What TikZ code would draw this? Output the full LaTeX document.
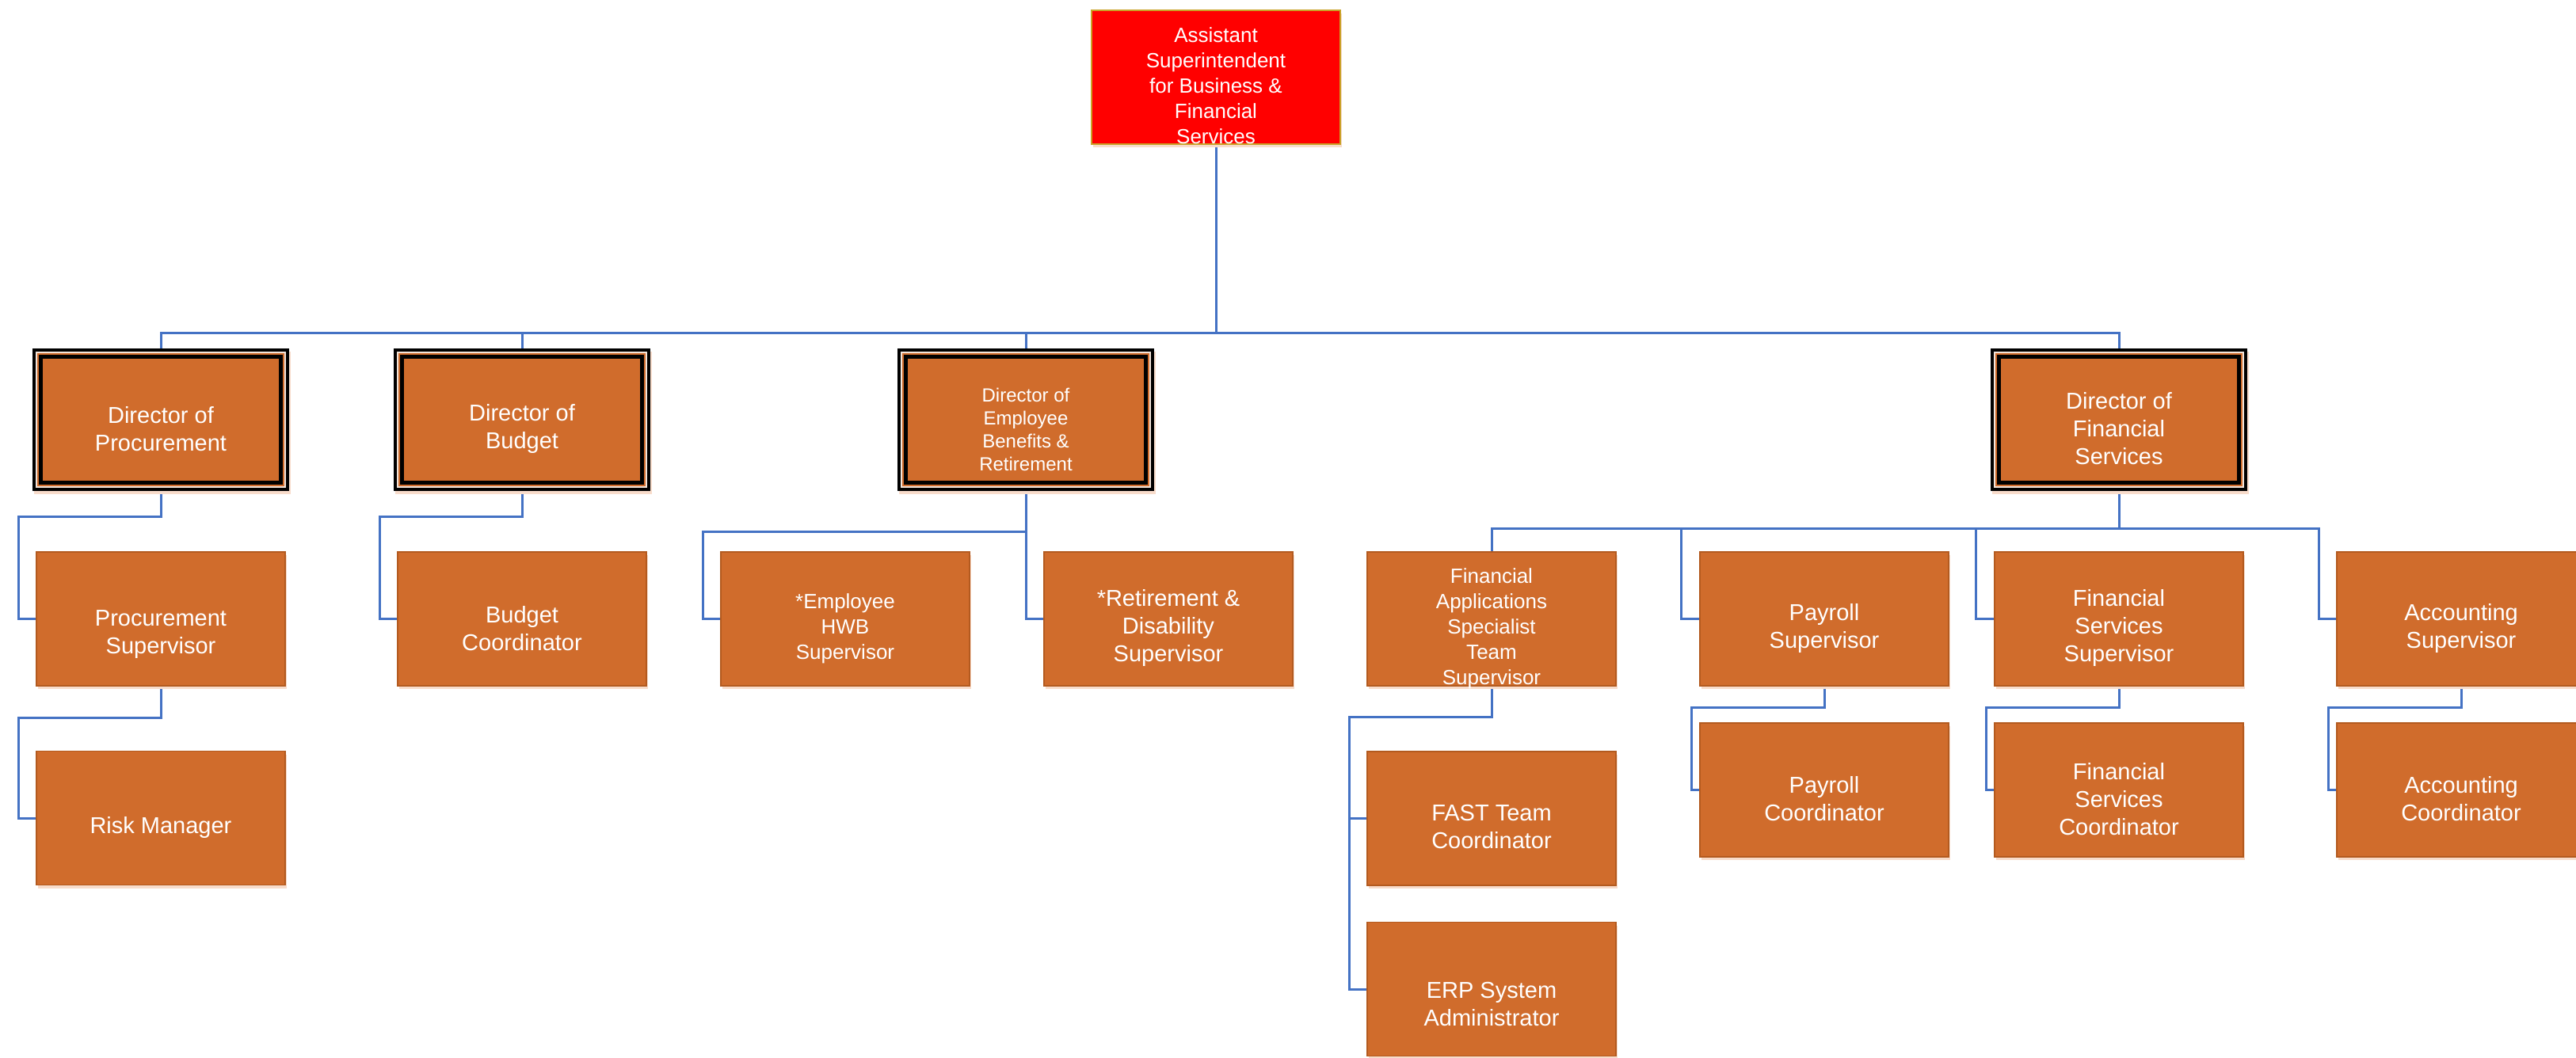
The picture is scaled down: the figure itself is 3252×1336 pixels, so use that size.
\documentclass[tikz,border=0pt]{standalone}
\usepackage{fontspec}
\setmainfont{Liberation Sans}
\usetikzlibrary{backgrounds,shadows}
\definecolor{orfill}{HTML}{D06C2C}
\definecolor{ordraw}{HTML}{B35A1F}
\definecolor{linkblue}{HTML}{4472C4}
\definecolor{dlight}{HTML}{F2E4DA}
\definecolor{topgold}{HTML}{C9A227}
\definecolor{shadowc}{HTML}{F8DCCB}
\newcommand\dirframe[1]{%
  \fill[dlight] ([shift={(4,4)}]#1.north west) rectangle ([shift={(-4,-4)}]#1.south east);
  \fill[orfill] ([shift={(6,6)}]#1.north west) rectangle ([shift={(-6,-6)}]#1.south east);
  \fill[black] ([shift={(8.3,8.3)}]#1.north west) rectangle ([shift={(-8.3,-8.3)}]#1.south east);
  \fill[orfill] ([shift={(13,13)}]#1.north west) rectangle ([shift={(-13,-13)}]#1.south east);
}
\begin{document}
\begin{tikzpicture}[x=0.5pt,y=-0.5pt,
  shade/.style={drop shadow={shadow xshift=1pt,shadow yshift=-2pt,fill=shadowc,opacity=1}},
  orbox/.style={rectangle, outer sep=0pt, inner sep=0pt, minimum width=157pt, minimum height=84.5pt,
    fill=orfill, draw=ordraw, line width=0.8pt, shade},
  topbox/.style={rectangle, outer sep=0pt, inner sep=0pt, minimum width=157pt, minimum height=84.5pt,
    fill=red, draw=topgold, line width=0.9pt, shade},
  dirbox/.style={rectangle, outer sep=0pt, inner sep=0pt, minimum width=162pt, minimum height=90pt,
    fill=black, shade},
  txt/.style={text=white, align=center, inner sep=0pt},
  fnorm/.style={font=\fontsize{14.5}{17.5}\selectfont},
  fsmall/.style={font=\fontsize{13}{16}\selectfont},
  feb/.style={font=\fontsize{12}{14.5}\selectfont},
  link/.style={draw=linkblue, line width=1.5pt}]
\useasboundingbox (0,0) rectangle (3252,1336);

% top
\node[topbox] (asst) at (1535,97.5) {};
\node[txt,fsmall] (asst-t) at ([shift={(0,11)}]asst.center) {Assistant\\Superintendent\\for Business \&\\Financial\\Services};

% directors
\node[dirbox] (dproc) at (203,530) {}; \dirframe{dproc}
\node[txt,fnorm] (dproc-t) at ([shift={(0,12)}]dproc.center) {Director of\\Procurement};
\node[dirbox] (dbud) at (659,530) {}; \dirframe{dbud}
\node[txt,fnorm] (dbud-t) at ([shift={(0,12)}]dbud.center) {Director of\\Budget};
\node[dirbox] (deb) at (1295,530) {}; \dirframe{deb}
\node[txt,feb] (deb-t) at ([shift={(0,12)}]deb.center) {Director of\\Employee\\Benefits \&\\Retirement};
\node[dirbox] (dfs) at (2675,530) {}; \dirframe{dfs}
\node[txt,fnorm] (dfs-t) at ([shift={(0,11)}]dfs.center) {Director of\\Financial\\Services};

% level 2
\node[orbox] (psup) at (203,781.5) {};
\node[txt,fnorm] (psup-t) at ([shift={(0,20)}]psup.center) {Procurement\\Supervisor};
\node[orbox] (bcoord) at (659,781.5) {};
\node[txt,fnorm] (bcoord-t) at ([shift={(0,12)}]bcoord.center) {Budget\\Coordinator};
\node[orbox] (hwb) at (1067,781.5) {};
\node[txt,fsmall] (hwb-t) at ([shift={(0,12)}]hwb.center) {*Employee\\HWB\\Supervisor};
\node[orbox] (ret) at (1475,781.5) {};
\node[txt,fnorm] (ret-t) at ([shift={(0,12)}]ret.center) {*Retirement \&\\Disability\\Supervisor};
\node[orbox] (finapp) at (1883,781.5) {};
\node[txt,fsmall] (finapp-t) at ([shift={(0,12)}]finapp.center) {Financial\\Applications\\Specialist\\Team\\Supervisor};
\node[orbox] (paysup) at (2303,781.5) {};
\node[txt,fnorm] (paysup-t) at ([shift={(0,12)}]paysup.center) {Payroll\\Supervisor};
\node[orbox] (fss) at (2675,781.5) {};
\node[txt,fnorm] (fss-t) at ([shift={(0,12)}]fss.center) {Financial\\Services\\Supervisor};
\node[orbox] (acct) at (3107,781.5) {};
\node[txt,fnorm] (acct-t) at ([shift={(0,12)}]acct.center) {Accounting\\Supervisor};

% level 3
\node[orbox] (risk) at (203,1033) {};
\node[txt,fnorm] (risk-t) at ([shift={(0,12)}]risk.center) {Risk Manager};
\node[orbox] (fast) at (1883,1033.5) {};
\node[txt,fnorm] (fast-t) at ([shift={(0,11)}]fast.center) {FAST Team\\Coordinator};
\node[orbox] (erp) at (1883,1249) {};
\node[txt,fnorm] (erp-t) at ([shift={(0,19)}]erp.center) {ERP System\\Administrator};
\node[orbox] (paycoord) at (2303,997.5) {};
\node[txt,fnorm] (paycoord-t) at ([shift={(0,11)}]paycoord.center) {Payroll\\Coordinator};
\node[orbox] (fsscoord) at (2675,997.5) {};
\node[txt,fnorm] (fsscoord-t) at ([shift={(0,12)}]fsscoord.center) {Financial\\Services\\Coordinator};
\node[orbox] (acctcoord) at (3107,997.5) {};
\node[txt,fnorm] (acctcoord-t) at ([shift={(0,11)}]acctcoord.center) {Accounting\\Coordinator};

% connectors
\begin{scope}[on background layer]
\coordinate (bus) at (0,421);
\draw[link] (asst.south) -- (asst.south |- bus);
\draw[link] (dproc.north) -- (dproc.north |- bus) -| (dfs.north);
\draw[link] (dbud.north) -- (dbud.north |- bus);
\draw[link] (deb.north) -- (deb.north |- bus);

\draw[link] (dproc.south) -- ++(0,33) -| ([shift={(-23,0)}]psup.west) -- (psup.west);
\draw[link] (psup.south) -- ++(0,40) -| ([shift={(-23,0)}]risk.west) -- (risk.west);
\draw[link] (dbud.south) -- ++(0,33) -| ([shift={(-23,0)}]bcoord.west) -- (bcoord.west);

\draw[link] (deb.south) -- ++(0,52) -| ([shift={(-23,0)}]hwb.west) -- (hwb.west);
\draw[link] (deb.south) |- (ret.west);

\coordinate (fsbus) at ([shift={(0,-29)}]finapp.north);
\coordinate (prail) at ([shift={(-24,0)}]paysup.west);
\coordinate (frail) at ([shift={(-24,0)}]fss.west);
\draw[link] (dfs.south) -- (dfs.south |- fsbus);
\draw[link] (finapp.north) -- (fsbus) -| ([shift={(-23,0)}]acct.west) -- (acct.west);
\draw[link] (prail |- fsbus) -- (prail) -- (paysup.west);
\draw[link] (frail |- fsbus) -- (frail) -- (fss.west);

\draw[link] (finapp.south) -- ++(0,39) -| ([shift={(-23,0)}]erp.west) -- (erp.west);
\draw[link] ([shift={(-23,0)}]fast.west) -- (fast.west);
\draw[link] (paysup.south) -- ++(0,27) -| ([shift={(-11,0)}]paycoord.west) -- (paycoord.west);
\draw[link] (fss.south) -- ++(0,27) -| ([shift={(-11,0)}]fsscoord.west) -- (fsscoord.west);
\draw[link] (acct.south) -- ++(0,27) -| ([shift={(-11,0)}]acctcoord.west) -- (acctcoord.west);
\end{scope}
\end{tikzpicture}
\end{document}
